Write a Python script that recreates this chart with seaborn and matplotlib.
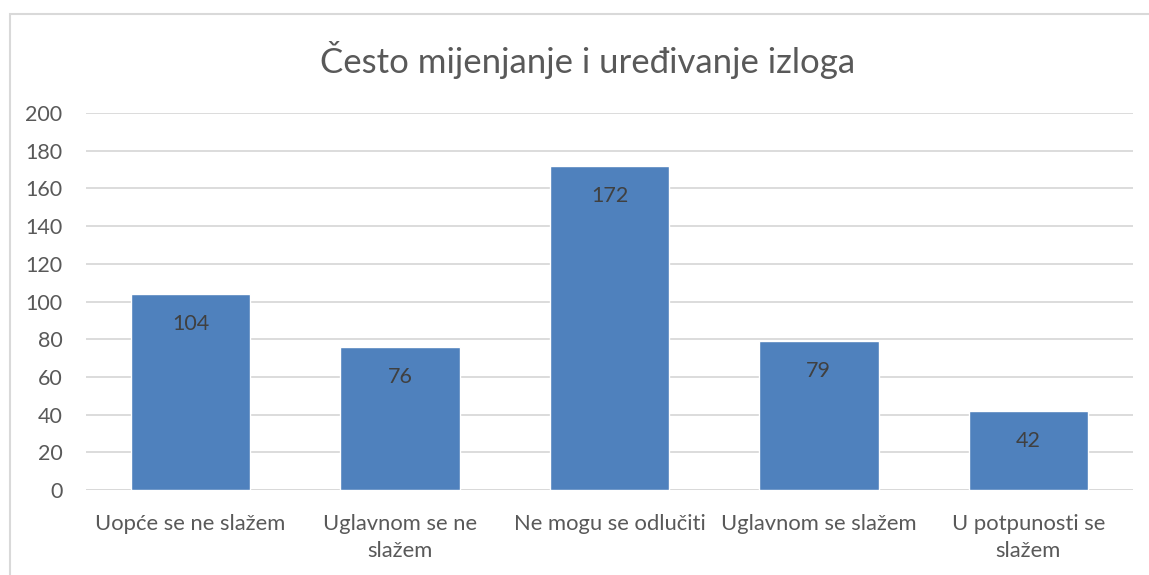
import matplotlib
matplotlib.use("Agg")
import matplotlib.pyplot as plt
import seaborn as sns
import pandas as pd
from matplotlib.patches import Rectangle

categories = ["Uopće se ne slažem", "Uglavnom se ne\nslažem", "Ne mogu se odlučiti",
              "Uglavnom se slažem", "U potpunosti se\nslažem"]
values = [104, 76, 172, 79, 42]
title = "Često mijenjanje i uređivanje izloga"
yticks = [0, 20, 40, 60, 80, 100, 120, 140, 160, 180, 200]

sns.set_theme(style="white")
plt.rcParams["font.family"] = ["Lato", "DejaVu Sans"]

df = pd.DataFrame({"kategorija": categories, "broj": values})

fig = plt.figure(figsize=(11.49, 5.75), dpi=100)
fig.patch.set_facecolor("white")
ax = fig.add_axes([0.0748, 0.1478, 0.9112, 0.6557])

sns.barplot(data=df, x="kategorija", y="broj", color="#4F81BD", saturation=1,
            width=0.57, ax=ax, zorder=3)

ax.set_ylim(0, 200)
ax.set_yticks(yticks)
ax.set_xlim(-0.5, len(categories) - 0.5)
ax.grid(axis="y", color="#D9D9D9", linewidth=1.3, zorder=0)
ax.set_axisbelow(True)
for side in ["top", "right", "left", "bottom"]:
    ax.spines[side].set_visible(False)
ax.axhline(0, color="#D9D9D9", linewidth=1.3, zorder=1)
ax.set_xlabel("")
ax.set_ylabel("")
ax.tick_params(axis="y", labelsize=15.5, labelcolor="#595959", length=0, pad=17)
ax.tick_params(axis="x", labelsize=15.8, labelcolor="#595959", length=0, pad=17)
for lbl in ax.get_xticklabels():
    lbl.set_linespacing(1.45)

for cont in ax.containers:
    ax.bar_label(cont, labels=[str(v) for v in values], label_type="edge",
                 padding=-29, fontsize=15.5, color="#404040")

fig.text(0.511, 0.895, title, ha="center", va="center", fontsize=25, color="#595959")

# outer chart frame
fig.patches.append(Rectangle((10 / 1149, -0.01), 1.02, 1 - 14 / 575 + 0.01,
                             transform=fig.transFigure, fill=False,
                             edgecolor="#D9D9D9", linewidth=1.5))

fig.savefig("out.png", dpi=100, facecolor="white")
